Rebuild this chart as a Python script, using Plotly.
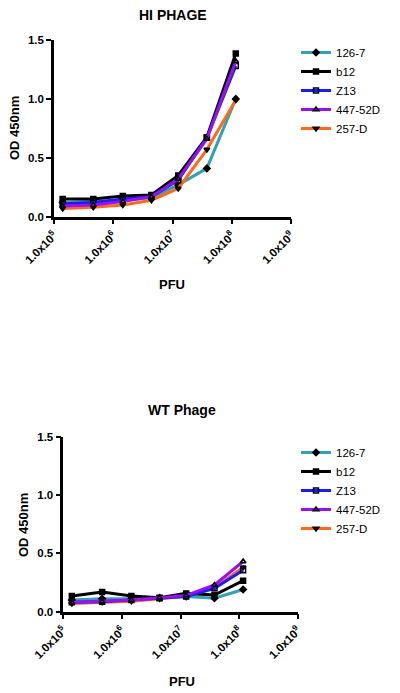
import plotly.graph_objects as go

# ---- data ----
series_names = ["126-7", "b12", "Z13", "447-52D", "257-D"]
pfu = [1.4e5, 4.6e5, 1.45e6, 4.4e6, 1.25e7, 3.8e7, 1.17e8]

hi_126_7 = [0.12, 0.13, 0.14, 0.16, 0.27, 0.41, 1.00]
hi_b12 = [0.15, 0.15, 0.175, 0.185, 0.35, 0.675, 1.385]
hi_z13 = [0.11, 0.12, 0.15, 0.17, 0.31, 0.67, 1.28]
hi_447 = [0.09, 0.10, 0.13, 0.17, 0.32, 0.66, 1.32]
hi_257 = [0.07, 0.08, 0.10, 0.14, 0.24, 0.57, 0.99]

wt_126_7 = [0.10, 0.11, 0.11, 0.12, 0.13, 0.115, 0.19]
wt_b12 = [0.135, 0.168, 0.135, 0.12, 0.157, 0.143, 0.266]
wt_z13 = [0.08, 0.085, 0.10, 0.115, 0.13, 0.20, 0.355]
wt_447 = [0.08, 0.09, 0.10, 0.12, 0.14, 0.23, 0.43]
wt_257 = [0.07, 0.08, 0.09, 0.11, 0.135, 0.21, 0.38]

tick_vals = [1e5, 1e6, 1e7, 1e8, 1e9]
tick_text = ["1.0x10<sup>5</sup>", "1.0x10<sup>6</sup>", "1.0x10<sup>7</sup>",
             "1.0x10<sup>8</sup>", "1.0x10<sup>9</sup>"]
y_tick_vals = [0, 0.5, 1.0, 1.5]
y_tick_text = ["0.0", "0.5", "1.0", "1.5"]

colors = ["#2ea3b3", "#000000", "#1a1aff", "#9a10f0", "#ff6a1a"]
symbols = ["diamond", "square", "square-open", "triangle-up-open", "triangle-down"]

FONT = "Liberation Sans, Arial, sans-serif"

fig = go.Figure()

hi_sets = [hi_126_7, hi_b12, hi_z13, hi_447, hi_257]
wt_sets = [wt_126_7, wt_b12, wt_z13, wt_447, wt_257]

order = [0, 4, 1, 2, 3]
for i in order:
    fig.add_trace(go.Scatter(
        x=pfu, y=hi_sets[i], name=series_names[i], mode="lines+markers",
        line=dict(color=colors[i], width=3),
        marker=dict(symbol=symbols[i], color="black", size=5,
                    line=dict(color="black", width=1.5)),
        xaxis="x", yaxis="y", legend="legend", legendrank=i + 1,
    ))
for i in order:
    fig.add_trace(go.Scatter(
        x=pfu, y=wt_sets[i], name=series_names[i], mode="lines+markers",
        line=dict(color=colors[i], width=3),
        marker=dict(symbol=symbols[i], color="black", size=5,
                    line=dict(color="black", width=1.5)),
        xaxis="x2", yaxis="y2", legend="legend2", legendrank=i + 1,
    ))

xcommon = dict(type="log", range=[5, 9], tickvals=tick_vals, ticktext=tick_text,
               tickangle=-45, showgrid=False, zeroline=False, showline=True,
               linecolor="black", linewidth=2.5, ticks="outside", ticklen=5,
               tickwidth=2, tickcolor="black", automargin=False,
               tickfont=dict(family=FONT, size=11.5, color="black", weight="bold"))
ycommon = dict(range=[0, 1.5], tickvals=y_tick_vals, ticktext=y_tick_text,
               showgrid=False, zeroline=False, showline=True,
               linecolor="black", linewidth=2.5, ticks="outside", ticklen=5,
               tickwidth=2, tickcolor="black", automargin=False,
               tickfont=dict(family=FONT, size=11.5, color="black", weight="bold"))

H = 693.0
fig.update_layout(
    template="none",
    width=400, height=693,
    margin=dict(l=0, r=0, t=0, b=0, autoexpand=False),
    paper_bgcolor="white", plot_bgcolor="white",
    font=dict(family=FONT, color="black"),
    xaxis=dict(domain=[54 / 400, 291 / 400], anchor="y", **xcommon),
    yaxis=dict(domain=[1 - 216.7 / H, 1 - 40 / H], anchor="x", **ycommon),
    xaxis2=dict(domain=[63.3 / 400, 297.7 / 400], anchor="y2", **xcommon),
    yaxis2=dict(domain=[1 - 611.7 / H, 1 - 436.7 / H], anchor="x2", **ycommon),
    legend=dict(x=296 / 400, y=1 - 38 / H, xanchor="left", yanchor="top",
                font=dict(family=FONT, size=11.5, color="black"),
                bgcolor="rgba(0,0,0,0)", tracegroupgap=0, itemwidth=30),
    legend2=dict(x=296 / 400, y=1 - 438 / H, xanchor="left", yanchor="top",
                 font=dict(family=FONT, size=11.5, color="black"),
                 bgcolor="rgba(0,0,0,0)", tracegroupgap=0, itemwidth=30),
    showlegend=True,
)

def ann(text, x, y, size, angle=0):
    fig.add_annotation(text=text, x=x / 400, y=1 - y / H, xref="paper", yref="paper",
                       showarrow=False, textangle=angle, xanchor="center", yanchor="middle",
                       font=dict(family=FONT, size=size, color="black", weight="bold"))

ann("HI PHAGE", 172.5, 15, 14)
ann("OD 450nm", 14, 128, 13, -90)
ann("PFU", 172, 285, 13)
ann("WT Phage", 181.5, 410, 14)
ann("OD 450nm", 23, 525, 13, -90)
ann("PFU", 181.5, 681, 13)

fig.write_html("out.html", config={"displayModeBar": False},
               post_script="document.body.style.margin='0';document.body.style.overflow='hidden';")
